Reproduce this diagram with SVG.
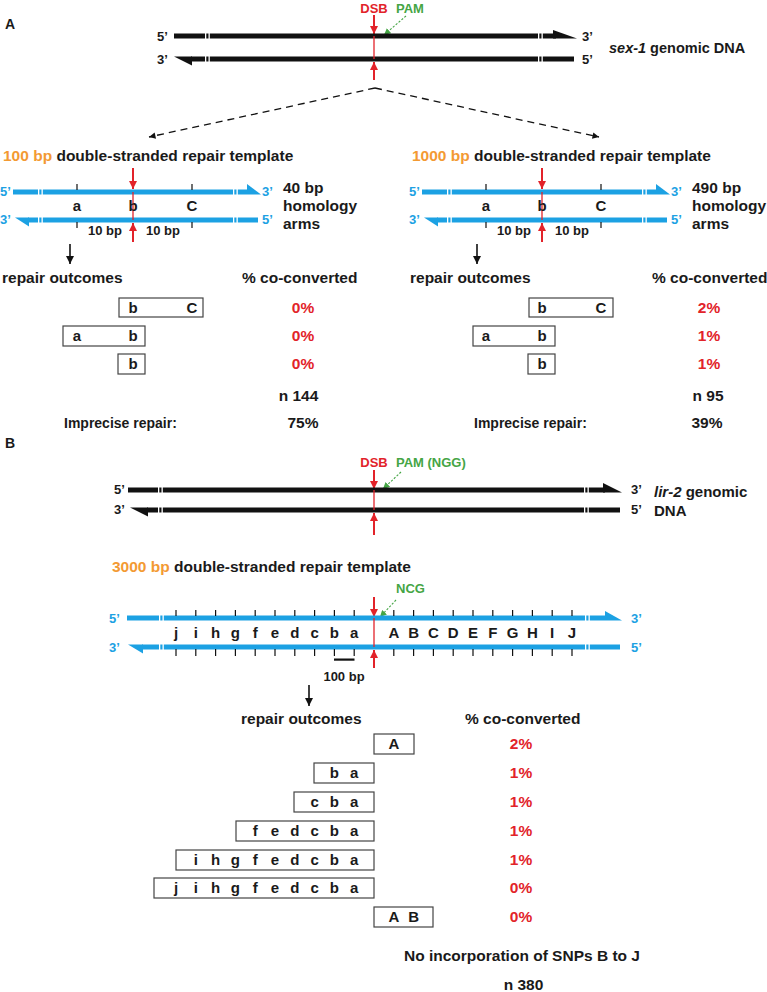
<svg xmlns="http://www.w3.org/2000/svg" width="767" height="992" viewBox="0 0 767 992">
<defs>
<style>
text { font-family: "Liberation Sans", Arial, Helvetica, sans-serif; font-weight: bold; fill: #1a1a1a; }
.big { font-size: 15.5px; }
.mid { font-size: 15px; }
.sm { font-size: 13px; }
.gen { font-size: 14.5px; }
.red { fill: #E2232A; }
.grn { fill: #45A545; }
.org { fill: #F39A33; }
.blu { fill: #1CA1E3; }
.mc { text-anchor: middle; }
.bk { fill: #111; }
.bl { fill: #1CA1E3; }
.brk { fill: #fff; }
.box { fill: #fff; stroke: #444; stroke-width: 1.2; }
.tick { stroke: #111; stroke-width: 1.2; fill: none; }
.redln { stroke: #E2232A; stroke-width: 1.3; }
.reda { stroke: #E2232A; stroke-width: 2; fill: none; marker-end: url(#mRed); }
.grna { stroke: #45A545; stroke-width: 1.1; stroke-dasharray: 2.2 1.6; fill: none; marker-end: url(#mGrn); }
.dash { stroke: #111; stroke-width: 1.3; stroke-dasharray: 7 5; fill: none; marker-end: url(#mBlk); }
.down { stroke: #111; stroke-width: 1.6; fill: none; marker-end: url(#mBlk2); }
</style>
<marker id="mRed" viewBox="0 0 10 10" refX="10" refY="5" markerWidth="4" markerHeight="4" orient="auto"><path d="M0,0 L10,5 L0,10 z" fill="#E2232A"/></marker>
<marker id="mGrn" viewBox="0 0 10 10" refX="10" refY="5" markerWidth="6" markerHeight="6" orient="auto"><path d="M0,0 L10,5 L0,10 z" fill="#45A545"/></marker>
<marker id="mBlk" viewBox="0 0 10 10" refX="10" refY="5" markerWidth="6" markerHeight="5" orient="auto"><path d="M0,0 L10,5 L0,10 z" fill="#111"/></marker>
<marker id="mBlk2" viewBox="0 0 10 10" refX="10" refY="5" markerWidth="5" markerHeight="5" orient="auto"><path d="M0,0 L10,5 L0,10 z" fill="#111"/></marker>
</defs>
<rect width="767" height="992" fill="#fff"/>

<!-- Panel A -->
<g id="labelA"><text x="5" y="29" style="font-size:14px">A</text></g>

<g id="sex1-genomic">
  <text x="374" y="13" class="sm red mc">DSB</text>
  <text x="396" y="13" class="sm grn">PAM</text>
  <line x1="374" y1="15" x2="374" y2="34" class="reda"/>
  <line x1="406" y1="16" x2="384" y2="35" class="grna"/>
  <rect x="174" y="33.5" width="382" height="5" class="bk"/>
  <polygon points="553,30 577,38.5 553,38.5" class="bk"/>
  <rect x="191" y="56.5" width="383" height="5" class="bk"/>
  <polygon points="174,56.5 192,56.5 192,65.5" class="bk"/>
  <rect x="205" y="32" width="1.3" height="31" class="brk"/>
  <rect x="208.5" y="32" width="1.3" height="31" class="brk"/>
  <rect x="538" y="32" width="1.3" height="31" class="brk"/>
  <rect x="541.5" y="32" width="1.3" height="31" class="brk"/>
  <line x1="374" y1="36" x2="374" y2="59" class="redln"/>
  <line x1="374" y1="80" x2="374" y2="62" class="reda"/>
  <text x="157" y="41" class="sm">5’</text>
  <text x="582" y="41" class="sm">3’</text>
  <text x="157" y="64" class="sm">3’</text>
  <text x="582" y="64" class="sm">5’</text>
  <text x="609" y="53" class="gen"><tspan font-style="italic">sex-1</tspan> genomic DNA</text>
</g>

<g id="template100">
  <text x="3" y="161" class="big"><tspan class="org">100 bp</tspan> double-stranded repair template</text>
  <line x1="133" y1="168" x2="133" y2="189" class="reda"/>
  <rect x="13" y="189.5" width="234" height="5" class="bl"/>
  <polygon points="247,184 261,194.5 247,194.5" class="bl"/>
  <rect x="28" y="217.5" width="230" height="5" class="bl"/>
  <polygon points="15,217.5 29,217.5 29,226.5" class="bl"/>
  <rect x="38" y="188" width="1.3" height="36" class="brk"/>
  <rect x="41.5" y="188" width="1.3" height="36" class="brk"/>
  <rect x="233" y="188" width="1.3" height="36" class="brk"/>
  <rect x="236.5" y="188" width="1.3" height="36" class="brk"/>
  <path d="M77,184V190 M192,184V190 M77,222V228 M192,222V228" class="tick"/>
  <line x1="133" y1="192" x2="133" y2="220" class="redln"/>
  <text x="77" y="211" class="mid mc">a</text>
  <text x="133" y="211" class="mid mc">b</text>
  <text x="192" y="211" class="mid mc">C</text>
  <text x="105" y="235" class="sm mc">10 bp</text>
  <text x="163" y="235" class="sm mc">10 bp</text>
  <line x1="133" y1="242" x2="133" y2="223" class="reda"/>
  <text x="0" y="196" class="sm blu">5’</text>
  <text x="262" y="196" class="sm blu">3’</text>
  <text x="0" y="224" class="sm blu">3’</text>
  <text x="262" y="224" class="sm blu">5’</text>
  <text x="283" y="193" class="big">40 bp</text>
  <text x="283" y="211" class="big">homology</text>
  <text x="283" y="229" class="big">arms</text>
</g>

<g id="outcomes100">
  <text x="2" y="283" class="big">repair outcomes</text>
  <text x="242" y="283" class="big">% co-converted</text>
  <rect x="119" y="298" width="84" height="19" class="box"/>
  <text x="133" y="313" class="mid mc">b</text>
  <text x="192" y="313" class="mid mc">C</text>
  <rect x="63" y="326" width="82" height="20" class="box"/>
  <text x="77" y="341" class="mid mc">a</text>
  <text x="133" y="341" class="mid mc">b</text>
  <rect x="118" y="354" width="27" height="20" class="box"/>
  <text x="133" y="369" class="mid mc">b</text>
  <text x="303" y="313" class="big mc red">0%</text>
  <text x="303" y="341" class="big mc red">0%</text>
  <text x="303" y="369" class="big mc red">0%</text>
  <text x="298.5" y="401" class="big mc">n 144</text>
  <text x="64" y="428" style="font-size:14px">Imprecise repair:</text>
  <text x="303" y="428" class="big mc">75%</text>
</g>

<g id="template1000">
  <text x="412" y="161" class="big"><tspan class="org">1000 bp</tspan> double-stranded repair template</text>
  <line x1="542" y1="168" x2="542" y2="189" class="reda"/>
  <rect x="422" y="189.5" width="234" height="5" class="bl"/>
  <polygon points="656,184 670,194.5 656,194.5" class="bl"/>
  <rect x="437" y="217.5" width="230" height="5" class="bl"/>
  <polygon points="424,217.5 438,217.5 438,226.5" class="bl"/>
  <rect x="447" y="188" width="1.3" height="36" class="brk"/>
  <rect x="450.5" y="188" width="1.3" height="36" class="brk"/>
  <rect x="642" y="188" width="1.3" height="36" class="brk"/>
  <rect x="645.5" y="188" width="1.3" height="36" class="brk"/>
  <path d="M486,184V190 M601,184V190 M486,222V228 M601,222V228" class="tick"/>
  <line x1="542" y1="192" x2="542" y2="220" class="redln"/>
  <text x="486" y="211" class="mid mc">a</text>
  <text x="542" y="211" class="mid mc">b</text>
  <text x="601" y="211" class="mid mc">C</text>
  <text x="514" y="235" class="sm mc">10 bp</text>
  <text x="572" y="235" class="sm mc">10 bp</text>
  <line x1="542" y1="242" x2="542" y2="223" class="reda"/>
  <text x="409" y="196" class="sm blu">5’</text>
  <text x="671" y="196" class="sm blu">3’</text>
  <text x="409" y="224" class="sm blu">3’</text>
  <text x="671" y="224" class="sm blu">5’</text>
  <text x="692" y="193" class="big">490 bp</text>
  <text x="692" y="211" class="big">homology</text>
  <text x="692" y="229" class="big">arms</text>
</g>

<g id="outcomes1000">
  <text x="410" y="283" class="big">repair outcomes</text>
  <text x="652" y="283" class="big">% co-converted</text>
  <rect x="529" y="298" width="84" height="19" class="box"/>
  <text x="542" y="313" class="mid mc">b</text>
  <text x="601" y="313" class="mid mc">C</text>
  <rect x="473" y="326" width="82" height="20" class="box"/>
  <text x="486" y="341" class="mid mc">a</text>
  <text x="542" y="341" class="mid mc">b</text>
  <rect x="528" y="354" width="27" height="20" class="box"/>
  <text x="542" y="369" class="mid mc">b</text>
  <text x="709" y="313" class="big mc red">2%</text>
  <text x="709" y="341" class="big mc red">1%</text>
  <text x="709" y="369" class="big mc red">1%</text>
  <text x="708" y="401" class="big mc">n 95</text>
  <text x="474" y="428" style="font-size:14px">Imprecise repair:</text>
  <text x="707" y="428" class="big mc">39%</text>
</g>

<!-- Panel B -->
<g id="labelB"><text x="5" y="448" style="font-size:14px">B</text></g>

<g id="lir2-genomic">
  <text x="374" y="467" class="sm red mc">DSB</text>
  <text x="396" y="467" class="sm grn">PAM (NGG)</text>
  <line x1="374" y1="470" x2="374" y2="489" class="reda"/>
  <line x1="401" y1="472" x2="383" y2="489" class="grna"/>
  <rect x="128" y="487.5" width="477" height="5" class="bk"/>
  <polygon points="603,483 622,492.5 603,492.5" class="bk"/>
  <rect x="147" y="507.5" width="473" height="5" class="bk"/>
  <polygon points="130,507.5 148,507.5 148,516.5" class="bk"/>
  <rect x="158" y="486" width="1.3" height="28" class="brk"/>
  <rect x="161.5" y="486" width="1.3" height="28" class="brk"/>
  <rect x="584" y="486" width="1.3" height="28" class="brk"/>
  <rect x="587.5" y="486" width="1.3" height="28" class="brk"/>
  <line x1="374" y1="490" x2="374" y2="510" class="redln"/>
  <line x1="374" y1="535" x2="374" y2="513" class="reda"/>
  <text x="114" y="494" class="sm">5’</text>
  <text x="631" y="494" class="sm">3’</text>
  <text x="114" y="514" class="sm">3’</text>
  <text x="631" y="514" class="sm">5’</text>
  <text x="654" y="497" class="gen" style="font-size:15px"><tspan font-style="italic">lir-2</tspan> genomic</text>
  <text x="654" y="516" class="gen" style="font-size:15px">DNA</text>
</g>

<g id="template3000">
  <text x="112" y="572" class="big"><tspan class="org">3000 bp</tspan> double-stranded repair template</text>
  <text x="396" y="593" class="sm grn">NCG</text>
  <line x1="374" y1="597" x2="374" y2="617" class="reda"/>
  <line x1="396" y1="600" x2="380" y2="617" class="grna"/>
  <rect x="127" y="615.5" width="478" height="5" class="bl"/>
  <polygon points="605,611 622,620.5 605,620.5" class="bl"/>
  <rect x="142" y="644.5" width="478" height="5" class="bl"/>
  <polygon points="128,644.5 143,644.5 143,653.5" class="bl"/>
  <rect x="159" y="614" width="1.3" height="37" class="brk"/>
  <rect x="162.5" y="614" width="1.3" height="37" class="brk"/>
  <rect x="585" y="614" width="1.3" height="37" class="brk"/>
  <rect x="588.5" y="614" width="1.3" height="37" class="brk"/>
  <path class="tick" d="M176,610V616 M195.8,610V616 M215.6,610V616 M235.4,610V616 M255.2,610V616 M275,610V616 M294.8,610V616 M314.6,610V616 M334.4,610V616 M354.2,610V616 M393.8,610V616 M413.6,610V616 M433.4,610V616 M453.2,610V616 M473,610V616 M492.8,610V616 M512.6,610V616 M532.4,610V616 M552.2,610V616 M572,610V616 M176,649V656 M195.8,649V656 M215.6,649V656 M235.4,649V656 M255.2,649V656 M275,649V656 M294.8,649V656 M314.6,649V656 M334.4,649V656 M354.2,649V656 M393.8,649V656 M413.6,649V656 M433.4,649V656 M453.2,649V656 M473,649V656 M492.8,649V656 M512.6,649V656 M532.4,649V656 M552.2,649V656 M572,649V656"/>
  <line x1="374" y1="618" x2="374" y2="647" class="redln"/>
  <g>
    <text x="176" y="638" class="mid mc">j</text>
    <text x="195.8" y="638" class="mid mc">i</text>
    <text x="215.6" y="638" class="mid mc">h</text>
    <text x="235.4" y="638" class="mid mc">g</text>
    <text x="255.2" y="638" class="mid mc">f</text>
    <text x="275" y="638" class="mid mc">e</text>
    <text x="294.8" y="638" class="mid mc">d</text>
    <text x="314.6" y="638" class="mid mc">c</text>
    <text x="334.4" y="638" class="mid mc">b</text>
    <text x="354.2" y="638" class="mid mc">a</text>
    <text x="393.8" y="638" class="mid mc">A</text>
    <text x="413.6" y="638" class="mid mc">B</text>
    <text x="433.4" y="638" class="mid mc">C</text>
    <text x="453.2" y="638" class="mid mc">D</text>
    <text x="473" y="638" class="mid mc">E</text>
    <text x="492.8" y="638" class="mid mc">F</text>
    <text x="512.6" y="638" class="mid mc">G</text>
    <text x="532.4" y="638" class="mid mc">H</text>
    <text x="552.2" y="638" class="mid mc">I</text>
    <text x="572" y="638" class="mid mc">J</text>
  </g>
  <line x1="374" y1="668" x2="374" y2="650" class="reda"/>
  <text x="109" y="623" class="sm blu">5’</text>
  <text x="631" y="623" class="sm blu">3’</text>
  <text x="109" y="652" class="sm blu">3’</text>
  <text x="631" y="652" class="sm blu">5’</text>
  <rect x="334" y="658.5" width="20.5" height="2.2" class="bk"/>
  <text x="344" y="681" class="sm mc">100 bp</text>
</g>

<g id="outcomes3000">
  <text x="241" y="724" class="big">repair outcomes</text>
  <text x="465" y="724" class="big">% co-converted</text>
  <rect x="374" y="734" width="40" height="20" class="box"/>
  <text x="393.8" y="749" class="mid mc">A</text>
  <rect x="314" y="763" width="60" height="20" class="box"/>
  <text x="334.4" y="778" class="mid mc">b</text><text x="354.2" y="778" class="mid mc">a</text>
  <rect x="294" y="792" width="80" height="20" class="box"/>
  <text x="314.6" y="807" class="mid mc">c</text><text x="334.4" y="807" class="mid mc">b</text><text x="354.2" y="807" class="mid mc">a</text>
  <rect x="236" y="821" width="138" height="20" class="box"/>
  <text x="255.2" y="836" class="mid mc">f</text><text x="275" y="836" class="mid mc">e</text><text x="294.8" y="836" class="mid mc">d</text><text x="314.6" y="836" class="mid mc">c</text><text x="334.4" y="836" class="mid mc">b</text><text x="354.2" y="836" class="mid mc">a</text>
  <rect x="176" y="850" width="198" height="20" class="box"/>
  <text x="195.8" y="865" class="mid mc">i</text><text x="215.6" y="865" class="mid mc">h</text><text x="235.4" y="865" class="mid mc">g</text><text x="255.2" y="865" class="mid mc">f</text><text x="275" y="865" class="mid mc">e</text><text x="294.8" y="865" class="mid mc">d</text><text x="314.6" y="865" class="mid mc">c</text><text x="334.4" y="865" class="mid mc">b</text><text x="354.2" y="865" class="mid mc">a</text>
  <rect x="154" y="878" width="220" height="20" class="box"/>
  <text x="176" y="893" class="mid mc">j</text><text x="195.8" y="893" class="mid mc">i</text><text x="215.6" y="893" class="mid mc">h</text><text x="235.4" y="893" class="mid mc">g</text><text x="255.2" y="893" class="mid mc">f</text><text x="275" y="893" class="mid mc">e</text><text x="294.8" y="893" class="mid mc">d</text><text x="314.6" y="893" class="mid mc">c</text><text x="334.4" y="893" class="mid mc">b</text><text x="354.2" y="893" class="mid mc">a</text>
  <rect x="374" y="907" width="59" height="20" class="box"/>
  <text x="393.8" y="922" class="mid mc">A</text><text x="413.6" y="922" class="mid mc">B</text>
  <text x="521" y="749" class="big mc red">2%</text>
  <text x="521" y="778" class="big mc red">1%</text>
  <text x="521" y="807" class="big mc red">1%</text>
  <text x="521" y="836" class="big mc red">1%</text>
  <text x="521" y="865" class="big mc red">1%</text>
  <text x="521" y="893" class="big mc red">0%</text>
  <text x="521" y="922" class="big mc red">0%</text>
  <text x="404" y="961" class="big">No incorporation of SNPs B to J</text>
  <text x="523.5" y="990" class="big mc">n 380</text>
</g>

<g id="connectors">
  <line x1="375" y1="88" x2="149" y2="137" class="dash"/>
  <line x1="375" y1="88" x2="599" y2="137" class="dash"/>
  <line x1="70" y1="244" x2="70" y2="264" class="down"/>
  <line x1="477" y1="244" x2="477" y2="264" class="down"/>
  <line x1="309" y1="685" x2="309" y2="706" class="down"/>
</g>
</svg>
